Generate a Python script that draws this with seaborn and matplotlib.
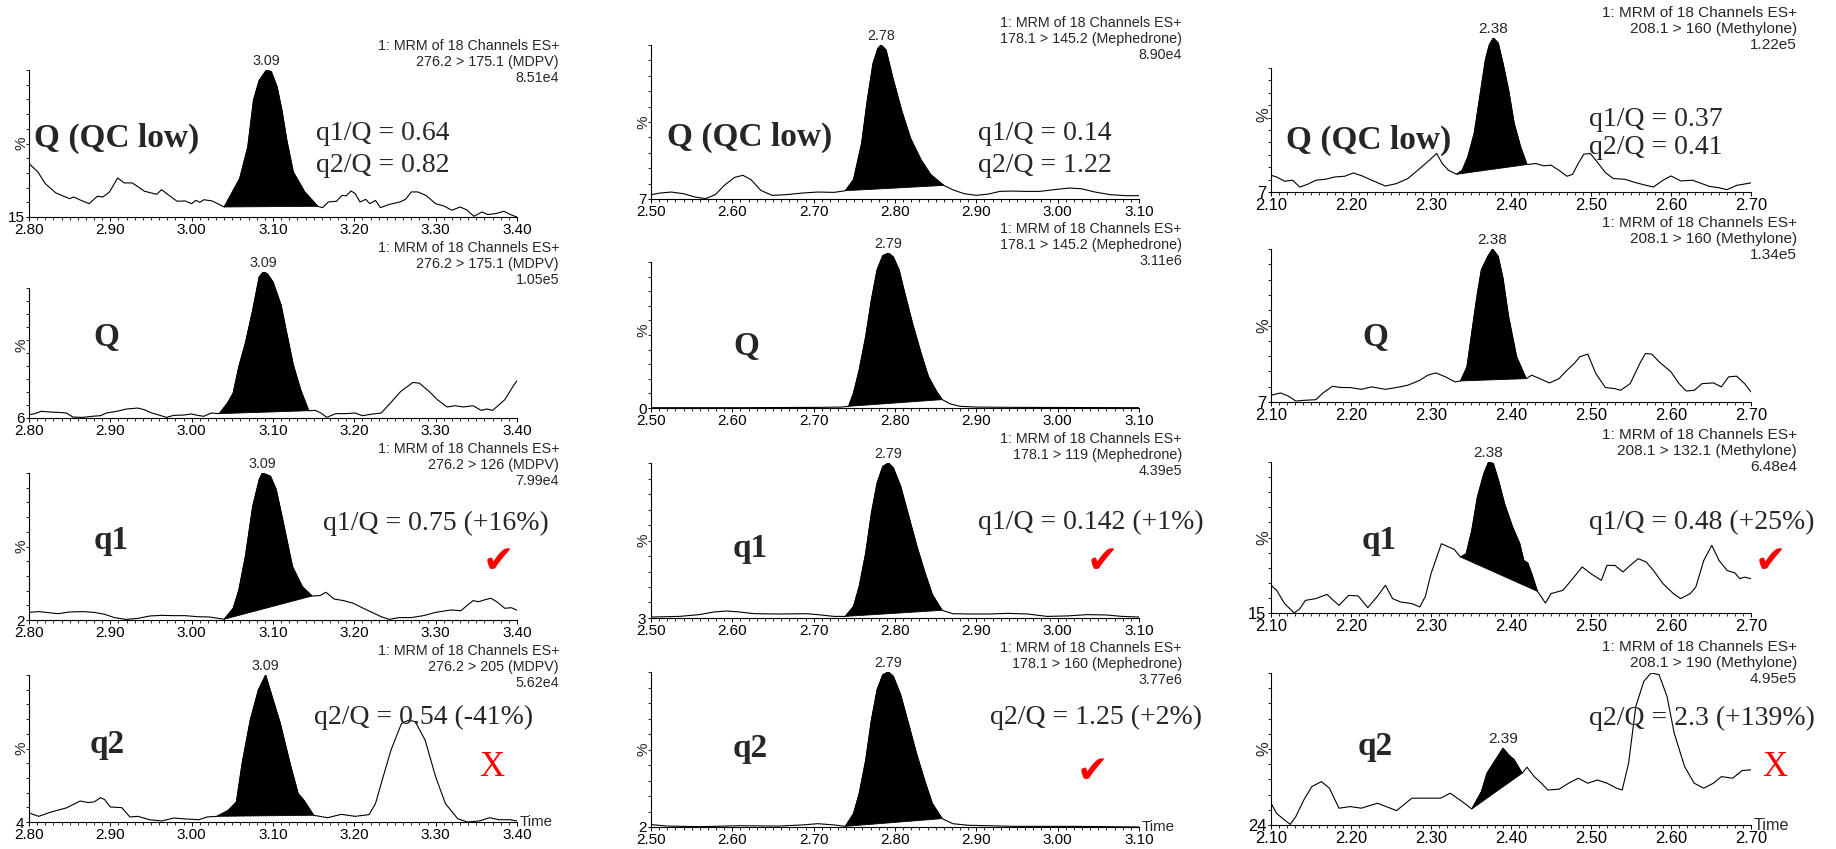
import numpy as np
import pandas as pd
import matplotlib
matplotlib.use("Agg")
import matplotlib.pyplot as plt
import seaborn as sns
from matplotlib.ticker import MultipleLocator, FormatStrFormatter

# ---------------------------------------------------------------- data
# MDPV (column 1)
mdpv_qc_time = [2.800,2.811,2.820,2.833,2.850,2.855,2.864,2.874,2.884,2.891,2.899,2.909,2.917,2.927,2.942,2.957,2.963,2.971,2.982,2.992,3.000,3.005,3.010,3.015,3.025,3.032,3.040,3.059,3.069,3.076,3.083,3.092,3.098,3.105,3.111,3.117,3.125,3.139,3.155,3.161,3.168,3.178,3.185,3.190,3.196,3.201,3.207,3.214,3.219,3.226,3.232,3.243,3.256,3.263,3.270,3.278,3.288,3.300,3.310,3.320,3.330,3.338,3.347,3.357,3.364,3.374,3.384,3.394,3.400]
mdpv_qc_pct = [45.9,41.0,34.3,28.9,25.6,26.6,24.6,22.7,27.0,26.6,29.5,37.6,34.7,34.7,29.9,28.1,30.8,27.9,24.1,24.3,22.7,24.6,23.5,25.0,24.3,22.7,20.8,37.2,55.5,82.6,94.0,100,99.0,90.3,76.8,59.4,41.0,29.5,21.2,20.4,23.7,24.1,27.5,27.2,30.1,28.5,23.7,25.2,22.7,24.6,20.4,22.3,23.7,25.2,29.5,29.5,27.5,22.7,21.4,18.9,20.8,19.2,15.4,17.9,16.4,17.0,18.3,16.0,15.0]

mdpv_q_time = [2.800,2.807,2.815,2.827,2.837,2.846,2.854,2.866,2.878,2.888,2.895,2.908,2.920,2.934,2.942,2.951,2.961,2.969,2.978,2.990,3.000,3.007,3.015,3.024,3.034,3.044,3.051,3.058,3.066,3.075,3.083,3.088,3.093,3.100,3.110,3.117,3.125,3.134,3.144,3.152,3.159,3.166,3.177,3.189,3.201,3.210,3.223,3.233,3.245,3.257,3.272,3.280,3.292,3.302,3.314,3.324,3.334,3.346,3.356,3.363,3.370,3.385,3.395,3.400]
mdpv_q_pct = [8.1,8.8,10.3,9.8,9.6,9.2,6.6,6.4,7.1,7.5,9.2,10.3,11.8,12.4,11.3,9.2,7.7,6.4,7.7,7.9,8.6,7.7,7.1,9.2,8.8,15.6,22.0,39.1,54.1,75.4,96.8,100,98.9,93.6,78.6,60.5,40.2,24.2,10.7,10.9,9.2,6.4,8.8,8.8,9.2,7.5,8.6,9.2,16.0,23.1,28.9,28.4,23.1,17.8,13.1,13.9,13.1,13.9,10.9,11.8,10.9,17.8,26.3,30.1]

mdpv_q1_time = [2.800,2.812,2.824,2.836,2.849,2.866,2.880,2.893,2.905,2.919,2.934,2.949,2.963,2.978,2.992,3.007,3.022,3.040,3.051,3.058,3.066,3.075,3.083,3.087,3.097,3.104,3.112,3.124,3.136,3.148,3.158,3.165,3.175,3.187,3.199,3.211,3.224,3.233,3.243,3.255,3.270,3.285,3.300,3.319,3.331,3.338,3.346,3.353,3.360,3.368,3.375,3.385,3.393,3.400]
mdpv_q1_pct = [7.1,7.6,6.9,6.2,7.3,7.6,7.1,5.8,3.6,2.4,3.1,4.7,5.1,4.9,4.9,4.2,4.0,2.5,9.8,22.0,44.3,77.7,95.5,100,97.8,88.9,68.8,37.6,24.3,18.0,18.3,20.5,16.0,14.9,13.1,9.8,6.5,4.2,2.4,3.6,3.6,4.9,7.1,8.7,8.2,11.4,14.9,14.2,15.4,16.5,14.2,9.8,10.2,8.5]

mdpv_q2_time = [2.800,2.812,2.827,2.846,2.863,2.873,2.880,2.888,2.893,2.900,2.914,2.924,2.934,2.948,2.963,2.978,2.992,3.009,3.019,3.031,3.045,3.055,3.062,3.072,3.082,3.091,3.099,3.109,3.121,3.131,3.138,3.150,3.167,3.184,3.201,3.218,3.226,3.233,3.245,3.258,3.267,3.275,3.287,3.300,3.312,3.327,3.339,3.354,3.366,3.378,3.391,3.400]
mdpv_q2_pct = [9.9,7.7,10.5,13.2,17.7,16.7,17.1,19.9,18.6,13.8,13.4,7.3,7.7,5.5,4.7,6.6,6.0,5.5,7.3,7.7,11.6,17.1,42.2,70.5,90.2,100,85.8,68.4,42.2,22.5,18.2,8.4,6.8,9.0,7.7,8.8,16.0,29.1,50.9,68.4,70.5,69.5,57.5,33.5,16.0,6.2,4.0,4.7,6.8,5.5,5.5,4.7]

# Mephedrone (column 2)
meph_qc_time = [2.500,2.511,2.525,2.540,2.554,2.567,2.579,2.591,2.603,2.613,2.623,2.635,2.649,2.666,2.686,2.705,2.725,2.739,2.749,2.759,2.766,2.773,2.779,2.783,2.789,2.797,2.808,2.819,2.832,2.844,2.860,2.871,2.885,2.900,2.915,2.929,2.944,2.959,2.978,2.995,3.014,3.029,3.046,3.065,3.084,3.100]
meph_qc_pct = [9.6,10.6,11.2,10.2,8.2,7.2,9.6,15.6,20.1,21.3,18.7,12.2,9.2,9.6,10.6,11.2,11.0,12.0,18.7,40.7,66.9,89.0,98.0,100,97.0,80.9,60.8,43.8,30.7,21.7,15.2,12.6,10.2,9.2,10.0,11.6,11.8,11.6,11.6,12.6,13.6,13.2,11.2,9.6,9.0,9.0]

meph_q_time = [2.500,2.608,2.705,2.734,2.743,2.749,2.756,2.764,2.771,2.778,2.785,2.792,2.798,2.805,2.812,2.822,2.832,2.841,2.851,2.858,2.868,2.880,2.900,2.948,3.100]
meph_q_pct = [0.2,0.2,0.4,0.6,1.1,9.7,24.7,46.2,69.9,89.2,98.3,100,97.4,89.2,74.2,53.8,35.5,20.4,10.8,5.4,2.6,1.1,0.6,0.4,0.2]

meph_q1_time = [2.500,2.535,2.559,2.578,2.593,2.608,2.627,2.657,2.691,2.705,2.725,2.739,2.749,2.756,2.764,2.771,2.778,2.785,2.792,2.798,2.807,2.817,2.827,2.837,2.846,2.858,2.871,2.890,2.915,2.939,2.963,2.987,3.012,3.036,3.060,3.079,3.100]
meph_q1_pct = [3.6,4.0,5.1,6.8,7.4,6.8,5.7,5.5,5.7,5.1,4.0,4.0,10.3,22.8,43.7,68.7,87.5,97.9,100,96.9,85.4,66.6,47.8,31.2,17.6,7.8,5.7,5.5,5.5,5.9,5.5,4.0,4.3,5.1,4.9,4.0,3.6]

meph_q2_time = [2.500,2.520,2.559,2.608,2.657,2.686,2.705,2.725,2.739,2.749,2.756,2.764,2.771,2.778,2.785,2.792,2.798,2.807,2.817,2.827,2.837,2.846,2.858,2.871,2.890,2.948,3.021,3.100]
meph_q2_pct = [3.5,2.6,2.2,2.8,2.6,3.3,4.1,3.3,2.4,10.5,23.2,44.3,69.7,88.8,98.3,100,97.2,85.6,66.6,47.5,30.6,16.8,7.3,4.1,3.1,2.4,2.4,2.0]

# Methylone (column 3)
meth_qc_time = [2.100,2.107,2.117,2.127,2.136,2.146,2.156,2.168,2.180,2.192,2.203,2.214,2.226,2.243,2.257,2.271,2.286,2.298,2.307,2.314,2.322,2.332,2.339,2.346,2.354,2.361,2.368,2.373,2.378,2.384,2.390,2.397,2.404,2.412,2.420,2.431,2.441,2.450,2.460,2.470,2.477,2.484,2.491,2.499,2.506,2.518,2.528,2.542,2.557,2.569,2.578,2.590,2.600,2.612,2.627,2.636,2.648,2.660,2.670,2.682,2.700]
meth_qc_pct = [17.1,16.1,13.5,14.1,10.0,11.7,14.1,14.7,16.1,16.5,18.5,16.7,14.1,10.6,12.1,15.1,21.2,26.2,30.3,24.2,20.1,17.7,20.1,28.2,42.4,64.6,86.9,96.0,100,97.0,84.8,68.7,48.4,34.3,23.6,24.2,22.8,23.2,20.1,16.5,17.7,24.2,29.8,30.3,26.2,18.7,15.1,14.7,12.5,11.0,10.0,14.1,16.7,13.7,14.1,12.5,10.4,9.6,8.4,11.0,12.5]

meth_q_time = [2.100,2.112,2.122,2.131,2.141,2.156,2.165,2.177,2.187,2.199,2.213,2.226,2.243,2.257,2.271,2.286,2.296,2.306,2.318,2.330,2.337,2.345,2.352,2.358,2.363,2.371,2.377,2.384,2.390,2.397,2.407,2.419,2.426,2.436,2.448,2.460,2.470,2.479,2.486,2.496,2.506,2.518,2.530,2.537,2.549,2.561,2.568,2.576,2.585,2.600,2.610,2.619,2.629,2.639,2.653,2.663,2.672,2.682,2.692,2.700]
meth_q_pct = [11.1,12.5,10.5,7.6,8.0,8.4,12.5,16.6,15.8,15.8,14.7,16.2,14.7,15.8,17.2,20.2,23.3,24.7,22.3,19.2,19.8,28.4,52.8,73.1,87.4,95.5,100,95.5,82.3,58.9,34.5,21.2,23.3,21.2,18.6,21.2,26.3,30.4,34.5,36.1,24.3,15.8,15.1,14.1,18.2,30.4,36.5,36.1,31.5,25.3,18.2,13.7,14.1,18.2,18.6,16.2,22.3,22.7,18.2,13.1]

meth_q1_time = [2.100,2.107,2.117,2.129,2.136,2.143,2.156,2.170,2.177,2.185,2.197,2.209,2.221,2.233,2.243,2.252,2.262,2.276,2.286,2.293,2.300,2.313,2.322,2.329,2.337,2.344,2.351,2.358,2.366,2.372,2.378,2.385,2.392,2.402,2.411,2.416,2.421,2.426,2.433,2.438,2.443,2.450,2.465,2.477,2.489,2.501,2.513,2.520,2.530,2.540,2.549,2.559,2.569,2.578,2.590,2.603,2.612,2.624,2.631,2.641,2.651,2.660,2.670,2.680,2.686,2.692,2.700]
meth_q1_pct = [30.6,27.8,20.3,15.0,17.4,22.1,23.1,25.5,22.5,19.3,24.9,24.6,18.0,24.4,30.6,23.1,21.2,20.3,18.4,24.4,37.1,54.0,52.2,50.8,46.5,48.4,61.5,80.3,93.4,100,99.1,88.7,76.5,63.4,54.0,44.6,43.1,37.1,27.2,24.0,20.6,25.9,27.8,34.3,40.9,36.8,33.4,41.8,41.8,38.1,41.8,45.6,43.7,39.0,31.5,25.9,23.1,25.9,29.6,44.6,53.1,44.6,39.0,37.5,34.3,35.2,34.3]

meth_q2_time = [2.100,2.107,2.117,2.124,2.131,2.141,2.151,2.163,2.173,2.185,2.199,2.213,2.233,2.257,2.276,2.291,2.312,2.324,2.339,2.351,2.363,2.370,2.378,2.390,2.397,2.404,2.414,2.420,2.429,2.438,2.446,2.460,2.472,2.484,2.496,2.508,2.520,2.532,2.539,2.547,2.556,2.566,2.575,2.585,2.595,2.604,2.617,2.629,2.641,2.653,2.663,2.677,2.689,2.700]
meth_q2_pct = [34.9,29.8,26.5,24.3,28.2,36.5,43.2,45.7,42.4,32.4,33.2,32.4,34.9,31.2,37.4,37.4,37.4,39.9,35.7,32.0,40.7,49.9,54.9,62.4,59.1,56.6,49.9,52.9,48.2,44.9,41.5,41.9,44.9,47.4,44.9,46.5,44.9,42.4,41.5,54.9,83.3,95.8,100,99.2,88.3,69.9,53.2,44.9,42.4,44.9,48.2,47.4,51.2,51.6]

# integration windows (start, end) of the labelled peak
peak_start = [3.040, 3.034, 3.040, 3.031,  2.739, 2.743, 2.739, 2.739,  2.332, 2.337, 2.337, 2.351]
peak_end   = [3.155, 3.144, 3.148, 3.150,  2.860, 2.858, 2.858, 2.858,  2.420, 2.419, 2.433, 2.414]
peak_labels = ["3.09", "3.09", "3.09", "3.09", "2.78", "2.79", "2.79", "2.79", "2.38", "2.38", "2.38", "2.39"]
y_offsets = [15, 6, 2, 4, 7, 0, 3, 2, 7, 7, 15, 24]
time_ranges = [(2.80, 3.40), (2.50, 3.10), (2.10, 2.70)]
channels = ["276.2 > 175.1 (MDPV)", "276.2 > 175.1 (MDPV)", "276.2 > 126 (MDPV)", "276.2 > 205 (MDPV)",
            "178.1 > 145.2 (Mephedrone)", "178.1 > 145.2 (Mephedrone)", "178.1 > 119 (Mephedrone)", "178.1 > 160 (Mephedrone)",
            "208.1 > 160 (Methylone)", "208.1 > 160 (Methylone)", "208.1 > 132.1 (Methylone)", "208.1 > 190 (Methylone)"]
intensities = ["8.51e4", "1.05e5", "7.99e4", "5.62e4", "8.90e4", "3.11e6", "4.39e5", "3.77e6",
               "1.22e5", "1.34e5", "6.48e4", "4.95e5"]
trace_names = ["Q (QC low)", "Q", "q1", "q2"]
qc_ratios = [["q1/Q = 0.64", "q2/Q = 0.82"], ["q1/Q = 0.14", "q2/Q = 1.22"], ["q1/Q = 0.37", "q2/Q = 0.41"]]
ion_ratios = [["q1/Q = 0.75 (+16%)", "q2/Q = 0.54 (-41%)"],
              ["q1/Q = 0.142 (+1%)", "q2/Q = 1.25 (+2%)"],
              ["q1/Q = 0.48 (+25%)", "q2/Q = 2.3 (+139%)"]]
verdicts = [["ok", "fail"], ["ok", "ok"], ["ok", "fail"]]

traces = [(mdpv_qc_time, mdpv_qc_pct), (mdpv_q_time, mdpv_q_pct), (mdpv_q1_time, mdpv_q1_pct), (mdpv_q2_time, mdpv_q2_pct),
          (meph_qc_time, meph_qc_pct), (meph_q_time, meph_q_pct), (meph_q1_time, meph_q1_pct), (meph_q2_time, meph_q2_pct),
          (meth_qc_time, meth_qc_pct), (meth_q_time, meth_q_pct), (meth_q1_time, meth_q1_pct), (meth_q2_time, meth_q2_pct)]

# ---------------------------------------------------------------- layout (pixels)
W, H = 1836, 849
COL_X = [(29, 517), (651, 1139), (1271, 1751)]
# (top of 100 %, bottom, top of drawn y spine) per column/row
ROW_Y = [[(70, 217, 70), (272, 418, 288), (473, 620, 473), (675, 822, 675)],
         [(45, 199, 45), (253, 408, 262), (463, 618, 463), (672, 827, 672)],
         [(38, 192, 68), (249, 402, 249), (462, 613, 462), (673, 825, 673)]]
HEAD_RIGHT = [559, 1182, 1797]
HEAD_Y = [[46, 248, 449, 651], [23, 229, 439, 648], [13, 223, 435, 647]]
NAME_POS = [[(34, 138), (106, 338), (111, 540), (107, 745)],
            [(667, 137), (746, 347), (750, 548), (750, 748)],
            [(1286, 140), (1375, 338), (1379, 540), (1375, 747)]]
QC_POS = [[(316, 133), (316, 165)], [(978, 133), (978, 165)], [(1589, 119), (1589, 148)]]
ION_POS = [[(323, 523), (314, 717)], [(978, 522), (990, 717)], [(1589, 522), (1589, 718)]]
MARK_POS = [[(498, 562), (492, 767)], [(1102, 562), (1092, 772)], [(1770, 562), (1775, 767)]]
COL_SCALE = [1.0, 1.0, 1.08]

sns.set_theme(style="ticks")
plt.rcParams['font.family'] = ['Liberation Sans', 'DejaVu Sans']
SERIF = ['Liberation Serif', 'DejaVu Serif']

fig = plt.figure(figsize=(W / 100, H / 100), dpi=100)
fig.patch.set_facecolor("white")


def ftxt(x, y, s, **kw):
    return fig.text(x / W, 1 - y / H, s, **kw)


for c in range(3):
    l, r = COL_X[c]
    k_fs = COL_SCALE[c]
    tick_fs = 11 * k_fs
    head_fs = 10.3 * k_fs
    peak_fs = 10.3 * k_fs
    for row in range(4):
        i = c * 4 + row
        top, bot, spine_top_px = ROW_Y[c][row]
        ax = fig.add_axes([l / W, 1 - bot / H, (r - l) / W, (bot - top) / H])
        ax.set_facecolor("white")
        t = np.array(traces[i][0])
        y = np.array(traces[i][1])
        ymin = y_offsets[i]
        df = pd.DataFrame({"Time": t, "pct": y})
        sns.lineplot(data=df, x="Time", y="pct", ax=ax, color="black", lw=0.8,
                     estimator=None, sort=False, legend=False)
        m = (t >= peak_start[i] - 1e-9) & (t <= peak_end[i] + 1e-9)
        ax.fill(t[m], y[m], color="black", lw=0.6, ec="black", zorder=3)
        kk = np.argmax(np.where(m, y, -1))
        ax.annotate(peak_labels[i], xy=(t[kk], y[kk]), xytext=(0, 1.5), textcoords="offset points",
                    ha="center", va="bottom", fontsize=peak_fs, annotation_clip=False)
        x0, x1 = time_ranges[c]
        ax.set_xlim(x0, x1)
        ax.set_ylim(ymin, 100)
        for s in ("top", "right"):
            ax.spines[s].set_visible(False)
        spine_top = ymin + (bot - spine_top_px) / (bot - top) * (100 - ymin)
        ax.spines["left"].set_bounds(ymin, spine_top)
        for s in ("left", "bottom"):
            ax.spines[s].set_linewidth(0.8)
            ax.spines[s].set_color("black")
        ax.xaxis.set_major_locator(MultipleLocator(0.1))
        ax.xaxis.set_minor_locator(MultipleLocator(0.01))
        ax.xaxis.set_major_formatter(FormatStrFormatter("%.2f"))
        ax.set_yticks([ymin])
        ax.set_yticklabels([str(ymin)])
        ax.set_yticks(np.linspace(ymin, spine_top, 11)[1:], minor=True)
        ax.tick_params(axis="x", which="major", direction="out", length=3.2, width=0.7,
                       labelsize=tick_fs, pad=0.8, colors="black")
        ax.tick_params(axis="x", which="minor", direction="out", length=1.8, width=0.6, colors="black")
        ax.tick_params(axis="y", which="major", direction="out", length=2.5, width=0.7,
                       labelsize=tick_fs, pad=0.8, colors="black")
        ax.tick_params(axis="y", which="minor", direction="out", length=2.2, width=0.6, colors="black")
        ax.set_xlabel("")
        ax.set_ylabel("")
        ax.grid(False)
        ftxt(l - 7, (top + bot) / 2, "%", rotation=90, ha="center", va="center", fontsize=tick_fs)
        hy = HEAD_Y[c][row]
        for j, line in enumerate(["1: MRM of 18 Channels ES+", channels[i], intensities[i]]):
            ftxt(HEAD_RIGHT[c], hy + j * 16, line, ha="right", va="center", fontsize=head_fs)
        nx, ny = NAME_POS[c][row]
        ftxt(nx, ny, trace_names[row], ha="left" if row == 0 else "center", va="center",
             fontsize=24, fontweight="bold", family=SERIF)
        if row == 3:
            ftxt(r + 3, bot, "Time", ha="left", va="center", fontsize=head_fs + 0.5)

    for j in range(2):
        x, y_ = QC_POS[c][j]
        ftxt(x, y_, qc_ratios[c][j], ha="left", va="center", fontsize=20, family=SERIF)
        x, y_ = ION_POS[c][j]
        ftxt(x, y_, ion_ratios[c][j], ha="left", va="center", fontsize=20, family=SERIF)
        mx, my = MARK_POS[c][j]
        if verdicts[c][j] == "ok":
            ftxt(mx, my, "\u2714", ha="center", va="center", fontsize=27, color="#ff0000",
                 family=["DejaVu Sans"])
        else:
            ftxt(mx, my, "X", ha="center", va="center", fontsize=25, color="#ff0000", family=SERIF)

fig.savefig("out.png", dpi=100, facecolor="white")
